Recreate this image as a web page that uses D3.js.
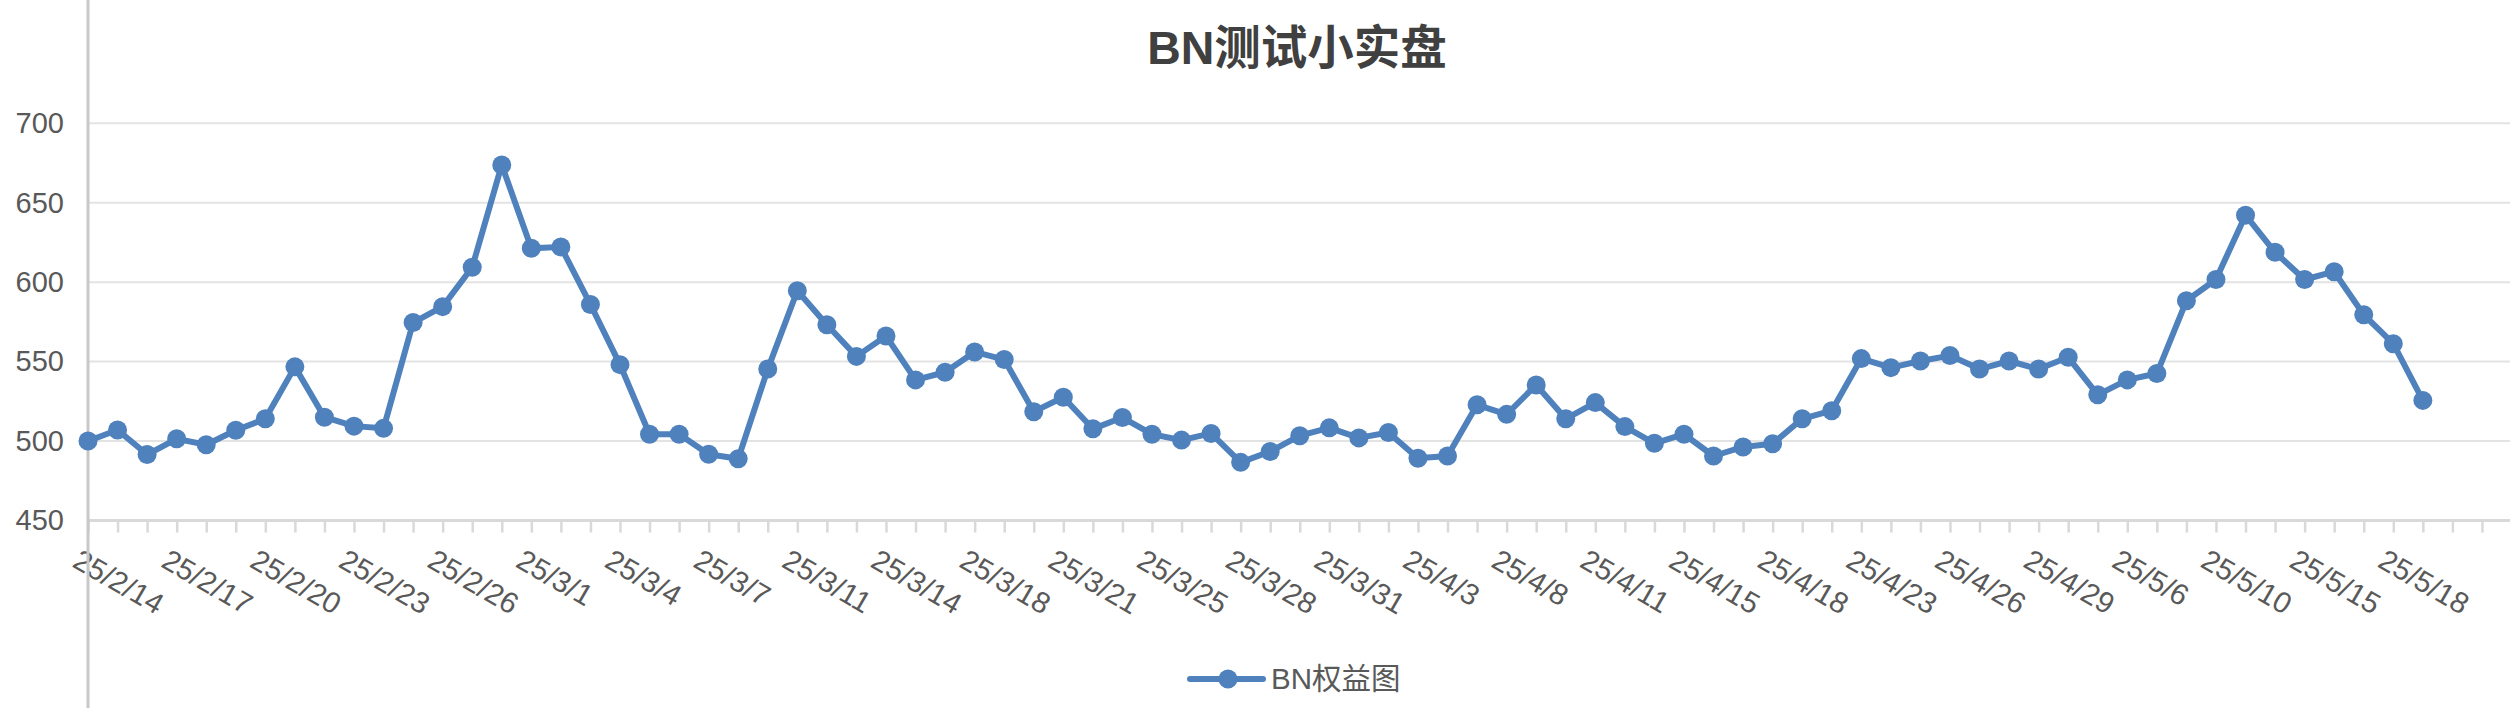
<!DOCTYPE html>
<html>
<head>
<meta charset="utf-8">
<title>BN测试小实盘</title>
<script src="https://cdn.jsdelivr.net/npm/d3@7"></script>
<style>
  html, body { margin: 0; padding: 0; background: #fff; }
  svg { display: block; font-family: "Liberation Sans", Arial, "Noto Sans CJK SC", sans-serif; }
</style>
</head>
<body>
<script>
var chartTitle = "BN测试小实盘";
var seriesName = "BN权益图";

// даты (подписи показаны через каждые 3)
var categories = [
  "25/2/14", "25/2/15", "25/2/16", "25/2/17", "25/2/18", "25/2/19", "25/2/20", "25/2/21", "25/2/22", "25/2/23",
  "25/2/24", "25/2/25", "25/2/26", "25/2/27", "25/2/28", "25/3/1", "25/3/2", "25/3/3", "25/3/4", "25/3/5",
  "25/3/6", "25/3/7", "25/3/8", "25/3/10", "25/3/11", "25/3/12", "25/3/13", "25/3/14", "25/3/16", "25/3/17",
  "25/3/18", "25/3/19", "25/3/20", "25/3/21", "25/3/23", "25/3/24", "25/3/25", "25/3/26", "25/3/27", "25/3/28",
  "25/3/29", "25/3/30", "25/3/31", "25/4/1", "25/4/2", "25/4/3", "25/4/6", "25/4/7", "25/4/8", "25/4/9",
  "25/4/10", "25/4/11", "25/4/13", "25/4/14", "25/4/15", "25/4/16", "25/4/17", "25/4/18", "25/4/20", "25/4/21",
  "25/4/23", "25/4/24", "25/4/25", "25/4/26", "25/4/27", "25/4/28", "25/4/29", "25/4/30", "25/5/4", "25/5/6",
  "25/5/7", "25/5/8", "25/5/10", "25/5/11", "25/5/13", "25/5/15", "25/5/16", "25/5/17", "25/5/18", "25/5/19"
];

var equity = [
  500, 507, 491.5, 501.4, 497.7, 506.8, 514, 546.7, 515, 509.4,
  508, 574.6, 584.6, 609.4, 673.8, 621.4, 622.2, 586, 548.1, 504.3,
  504.3, 491.7, 488.9, 545.3, 594.6, 573.2, 553.3, 566.1, 538.5, 543.3,
  556.1, 551.3, 518.5, 527.6, 507.7, 514.8, 504.3, 500.6, 504.8, 486.6,
  493.4, 503.4, 508.3, 502, 505.4, 489.2, 490.6, 522.8, 516.8, 535.3,
  514, 524.2, 509.1, 498.6, 504.3, 490.6, 496.3, 498.3, 514, 519.1,
  551.9, 546.2, 550.4, 553.8, 545.3, 550.4, 545.3, 552.7, 529.1, 538.5,
  542.5, 588.3, 601.7, 642.2, 618.8, 601.7, 606.6, 579.5, 561.3, 525.6
];

var yTicks = [450, 500, 550, 600, 650, 700];

var W = 2510, H = 708;
var svg, x, y;

init();
draw();

function init () {
    svg = d3.select("body").append("svg")
        .attr("width", W)
        .attr("height", H);

    // ось категорий уходит за правый край (ещё 3 пустых слота)
    var slots = d3.range(categories.length + 3);
    x = d3.scalePoint()
        .domain(slots)
        .range([88, 88 + (slots.length - 1) * 29.555]);

    y = d3.scaleLinear()
        .domain([450, 700])
        .range([520.5, 123.3]);
}

function draw () {
    var lineColor = "#4f81bd";

    // сетка
    svg.append("g")
        .selectAll("line")
        .data(yTicks.slice(1))
    .enter().append("line")
        .attr("x1", 89).attr("x2", W)
        .attr("y1", function (d) { return y(d); })
        .attr("y2", function (d) { return y(d); })
        .attr("stroke", "#e3e3e3")
        .attr("stroke-width", 2);

    // ось X с засечками
    var xAxis = d3.axisBottom(x)
        .tickSize(12)
        .tickFormat("");
    var gx = svg.append("g")
        .attr("transform", "translate(0," + y(450) + ")")
        .call(xAxis);
    gx.select(".domain").attr("stroke", "#d9d9d9").attr("stroke-width", 3)
        .attr("d", "M" + x(0) + ",0H" + W);
    gx.selectAll(".tick line").attr("stroke", "#d9d9d9").attr("stroke-width", 2.5);

    // подписи дат, повернуты на 30 градусов
    svg.append("g")
        .selectAll("text")
        .data(categories.filter(function (d, i) { return i % 3 === 0; }))
    .enter().append("text")
        .attr("transform", function (d) {
            var i = categories.indexOf(d);
            return "translate(" + (x(i) - 17) + ",566) rotate(30)";
        })
        .attr("fill", "#595959")
        .attr("font-size", 29.5)
        .text(function (d) { return d; });

    // ось Y: подписи и вертикальная линия во всю высоту
    var yAxis = d3.axisLeft(y)
        .tickValues(yTicks)
        .tickSize(0)
        .tickPadding(0);
    var gy = svg.append("g")
        .attr("transform", "translate(64,0)")
        .call(yAxis);
    gy.select(".domain").remove();
    gy.selectAll(".tick text")
        .attr("fill", "#595959")
        .attr("font-size", 29)
        .attr("font-family", null);

    svg.append("line")
        .attr("x1", 88).attr("x2", 88)
        .attr("y1", 0).attr("y2", H)
        .attr("stroke", "#c8c8c8")
        .attr("stroke-width", 3);

    // линия серии
    var line = d3.line()
        .x(function (d, i) { return x(i); })
        .y(function (d) { return y(d); });

    svg.append("path")
        .datum(equity)
        .attr("d", line)
        .attr("fill", "none")
        .attr("stroke", lineColor)
        .attr("stroke-width", 6)
        .attr("stroke-linejoin", "round");

    svg.append("g")
        .selectAll("circle")
        .data(equity)
    .enter().append("circle")
        .attr("cx", function (d, i) { return x(i); })
        .attr("cy", function (d) { return y(d); })
        .attr("r", 9.5)
        .attr("fill", lineColor);

    // заголовок
    svg.append("text")
        .attr("x", 1297)
        .attr("y", 64)
        .attr("text-anchor", "middle")
        .attr("font-size", 46.5)
        .attr("font-weight", "bold")
        .attr("fill", "#404040")
        .text(chartTitle);

    // легенда
    var lg = svg.append("g").attr("transform", "translate(1190,679)");
    lg.append("line")
        .attr("x1", 0).attr("x2", 73)
        .attr("stroke", lineColor)
        .attr("stroke-width", 6)
        .attr("stroke-linecap", "round");
    lg.append("circle")
        .attr("cx", 38).attr("r", 9.5)
        .attr("fill", lineColor);
    lg.append("text")
        .attr("x", 81)
        .attr("dy", "0.35em")
        .attr("font-size", 29.5)
        .attr("fill", "#595959")
        .text(seriesName);
}
</script>
</body>
</html>
